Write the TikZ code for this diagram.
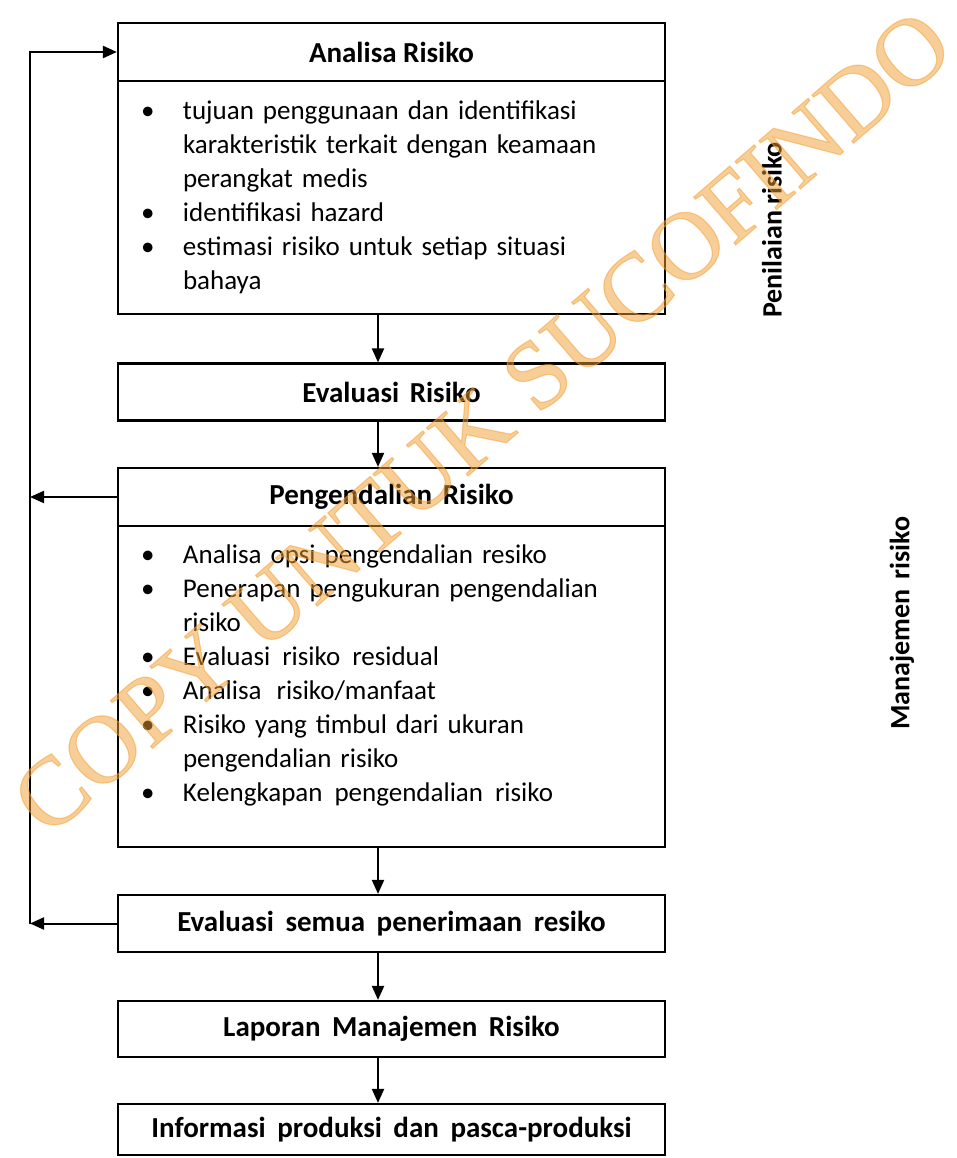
\documentclass[tikz,border=0pt]{standalone}
\usepackage{fontspec}
\setmainfont{Carlito}
\newfontfamily\stampfont[FakeBold=1.2]{Liberation Serif}
\usetikzlibrary{arrows.meta}

\definecolor{stampcol}{RGB}{242,158,50}
\newcommand{\bodysize}{\fontsize{27}{34}\selectfont}

\begin{document}
\begin{tikzpicture}[x=1pt, y=-1pt,
		box/.style={draw, line width=2.2pt, minimum width=547pt, inner sep=0pt},
		head/.style={box, font=\fontsize{29}{34}\selectfont\bfseries},
		body/.style={box, inner xsep=18pt, text width=511pt, align=left, font=\bodysize},
		arr/.style={line width=2pt, -{Triangle[length=14pt, width=12pt]}},
		side/.style={rotate=90, font=\fontsize{28}{34}\selectfont\bfseries},
		stamp/.style={rotate=40.8, text=stampcol, text opacity=0.5, font=\fontsize{97}{97}\selectfont\stampfont}]
		\useasboundingbox (0,0) rectangle (957,1158);

		\node[head, minimum height=58pt] (analisa) at (391.5, 52) {Analisa Risiko};
		\node[body, minimum height=233pt] (analisaBody) at (391.5, 197.5) {%
			\begin{tabular}{@{\hspace{5pt}}p{42pt}@{}l@{}}
				\textbullet & tujuan penggunaan dan identifikasi \\
				& karakteristik terkait dengan keamaan \\
				& perangkat medis \\
				\textbullet & identifikasi hazard \\
				\textbullet & estimasi risiko untuk setiap situasi \\
				& bahaya
			\end{tabular}};
		\node[head, minimum height=57pt] (evalRisk) at (391.5, 392) {Evaluasi\hspace{4pt} Risiko};
		\node[head, minimum height=58pt] (control) at (391.5, 497) {Pengendalian\hspace{4pt} Risiko};
		\node[body, minimum height=321pt] (controlBody) at (391.5, 686.5) {%
			\begin{tabular}{@{\hspace{5pt}}p{42pt}@{}l@{}}
				\textbullet & Analisa opsi pengendalian resiko \\
				\textbullet & Penerapan pengukuran pengendalian \\
				& risiko \\
				\textbullet & Evaluasi\hspace{3pt} risiko\hspace{3pt} residual \\
				\textbullet & Analisa\hspace{6pt} risiko/manfaat \\
				\textbullet & Risiko yang timbul dari ukuran \\
				& pengendalian risiko \\
				\textbullet & Kelengkapan\hspace{3pt} pengendalian\hspace{3pt} risiko \\[22pt]
			\end{tabular}};
		\node[head, minimum height=57pt] (evalAll) at (391.5, 923.5) {Evaluasi\hspace{5pt} semua\hspace{5pt} penerimaan\hspace{5pt} resiko};
		\node[head, minimum height=56pt] (report) at (391.5, 1029) {Laporan\hspace{5pt} Manajemen\hspace{5pt} Risiko};
		\node[head, minimum height=51pt] (info) at (391.5, 1129.5) {Informasi\hspace{5pt} produksi\hspace{5pt} dan\hspace{5pt} pasca-produksi};

		\node[side] (penilaian) at (772, 230) {Penilaian risiko};
		\node[side] (manajemen) at (902, 623) {Manajemen\hspace{4pt} risiko};

		\coordinate (back) at (30, 0);

		\draw[arr] ([xshift=-13.5pt]analisaBody.south) -- ([xshift=-13.5pt]evalRisk.north);
		\draw[arr] ([xshift=-13.5pt]evalRisk.south) -- ([xshift=-13.5pt]control.north);
		\draw[arr] ([xshift=-13.5pt]controlBody.south) -- ([xshift=-13.5pt]evalAll.north);
		\draw[arr] ([xshift=-13.5pt]evalAll.south) -- ([xshift=-13.5pt]report.north);
		\draw[arr] ([xshift=-13.5pt]report.south) -- ([xshift=-13.5pt]info.north);

		\draw[arr] (control.west) -- (control.west -| back);
		\draw[arr] (evalAll.west) -- (evalAll.west -| back);
		\draw[arr, line width=2.4pt] (evalAll.west -| back) |- (analisa.west);

		\node[stamp] (watermark) at (482, 422) {COPY UNTUK SUCOFINDO};
\end{tikzpicture}
\end{document}
